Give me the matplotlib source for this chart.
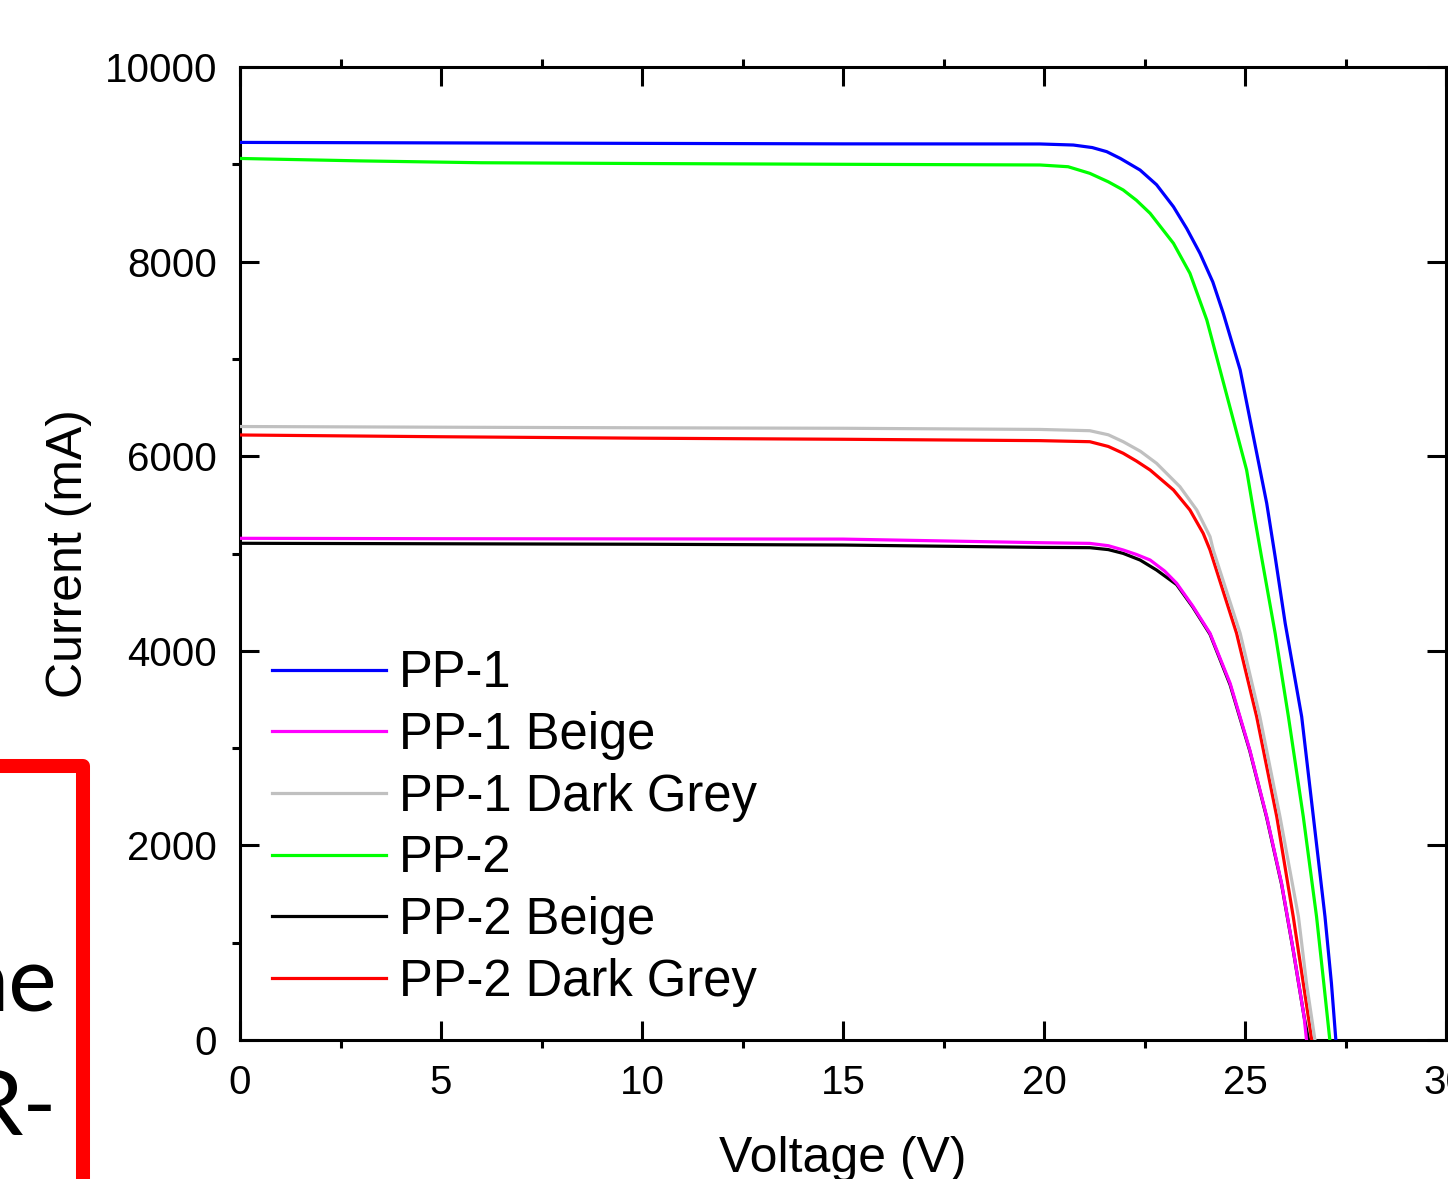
import matplotlib
matplotlib.use("Agg")
import matplotlib.pyplot as plt
from matplotlib.lines import Line2D

plt.rcParams['font.family'] = ['Liberation Sans', 'DejaVu Sans']

# ---------------- data ----------------
pp1_v = [0, 5, 10, 15, 19.9, 20.73, 21.2, 21.56, 21.9, 22.39, 22.8, 23.22, 23.55,
         23.88, 24.2, 24.46, 24.88, 25.21, 25.54, 25.75, 26.0, 26.41, 26.70, 26.99,
         27.15, 27.26]
pp1_i = [9225, 9220, 9215, 9210, 9209, 9198, 9172, 9130, 9060, 8941, 8790, 8564, 8340,
         8085, 7790, 7468, 6886, 6200, 5516, 4967, 4282, 3323, 2295, 1267,
         583, 0]

pp2_v = [0, 3, 6, 10, 15, 19.9, 20.6, 21.14, 21.6, 21.97, 22.3, 22.64, 23.22, 23.63,
         24.05, 24.38, 24.71, 25.04, 25.25, 25.41, 25.75, 26.08, 26.45, 26.78, 26.96,
         27.11]
pp2_i = [9060, 9035, 9016, 9008, 9000, 8993, 8975, 8907, 8820, 8736, 8630, 8496, 8188, 7880,
         7400, 6886, 6372, 5858, 5344, 4967, 4180, 3323, 2295, 1267, 583,
         0]

pp1_grey_v = [0, 5, 10, 15, 19.9, 21.14, 21.6, 21.97, 22.4, 22.8, 23.38, 23.80, 24.13,
              24.21, 24.88, 25.37, 25.87, 26.33, 26.53, 26.74]
pp1_grey_i = [6305, 6298, 6292, 6287, 6275, 6262, 6220, 6149, 6050, 5927, 5687, 5447, 5173,
              5036, 4180, 3323, 2295, 1267, 583, 0]

pp2_grey_v = [0, 5, 10, 15, 19.9, 21.14, 21.6, 21.97, 22.3, 22.64, 23.22, 23.63, 23.96,
              24.13, 24.79, 25.29, 25.79, 26.20, 26.45, 26.66]
pp2_grey_i = [6218, 6200, 6185, 6174, 6160, 6149, 6100, 6030, 5950, 5858, 5653, 5447, 5207,
              5036, 4180, 3323, 2295, 1267, 583, 0]

pp1_beige_v = [0, 5, 10, 15, 19.9, 21.14, 21.6, 21.97, 22.3, 22.64, 23.0, 23.3, 23.7,
               24.13, 24.63, 25.12, 25.54, 25.91, 26.20, 26.47, 26.53]
pp1_beige_i = [5156, 5152, 5150, 5148, 5111, 5104, 5080, 5036, 4990, 4933, 4820, 4694, 4460,
               4180, 3666, 2980, 2295, 1610, 925, 240, 0]

pp2_beige_v = [0, 5, 10, 15, 19.9, 21.14, 21.6, 21.97, 22.39, 22.8, 23.3, 23.7,
               24.13, 24.63, 25.12, 25.54, 25.91, 26.20, 26.47, 26.58]
pp2_beige_i = [5105, 5100, 5095, 5087, 5063, 5060, 5040, 5001, 4933, 4830, 4680, 4450,
               4170, 3650, 2970, 2285, 1600, 920, 240, 0]

labels = ["PP-1", "PP-1 Beige", "PP-1 Dark Grey", "PP-2", "PP-2 Beige", "PP-2 Dark Grey"]
colors = ["#0000FF", "#FF00FF", "#C0C0C0", "#00FF00", "#000000", "#FF0000"]

x_major = [0, 5, 10, 15, 20, 25, 30]
x_minor = [2.5, 7.5, 12.5, 17.5, 22.5, 27.5]
y_major = [0, 2000, 4000, 6000, 8000, 10000]
y_minor = [1000, 3000, 5000, 7000, 9000]

side_text = ["ne", "R-"]

# ---------------- figure ----------------
W, H = 1448, 1179
fig = plt.figure(figsize=(W / 100, H / 100), dpi=100)
ax = fig.add_axes([240 / W, 1 - 1040 / H, 1206 / W, 973 / H])

series = [
    (pp1_v, pp1_i), (pp1_beige_v, pp1_beige_i), (pp1_grey_v, pp1_grey_i),
    (pp2_v, pp2_i), (pp2_beige_v, pp2_beige_i), (pp2_grey_v, pp2_grey_i),
]
zorders = [6, 6, 6, 5, 4, 4]
handles = []
for (v, i), lab, col, z in zip(series, labels, colors, zorders):
    ln, = ax.plot(v, i, color=col, lw=2.3, label=lab, zorder=z,
                  solid_joinstyle='round')
    handles.append(ln)

ax.set_xlim(0, 30)
ax.set_ylim(0, 10000)
ax.set_xticks(x_major)
ax.set_xticks(x_minor, minor=True)
ax.set_yticks(y_major)
ax.set_yticks(y_minor, minor=True)

for s in ax.spines.values():
    s.set_linewidth(2.2)
ax.tick_params(which='major', direction='in', length=13.7, width=2.2,
               top=True, right=True, labelsize=29)
ax.tick_params(which='minor', direction='out', length=5.8, width=2.2,
               top=True, right=True)
ax.tick_params(axis='x', which='major', pad=17)
ax.tick_params(axis='y', which='major', pad=16.5)

ax.set_xlabel("Voltage (V)", fontsize=36)
ax.xaxis.label.set_va('baseline')
ax.xaxis.set_label_coords(0.5, (1040 - 1172) / 973)
ax.set_ylabel("Current (mA)", fontsize=36)
ax.yaxis.label.set_va('baseline')
ax.yaxis.set_label_coords((82 - 240) / 1206, 0.5)

ax.legend(handles=handles, loc='center left',
          bbox_to_anchor=((272 - 240) / 1206, (1040 - 828) / 973),
          frameon=False, fontsize=36.5, handlelength=2.25, handletextpad=0.26,
          labelspacing=0.25, borderpad=0, borderaxespad=0)

# red box fragment and clipped text on the left
fig.add_artist(Line2D([-20 / W, 83 / W, 83 / W],
                      [1 - 766 / H, 1 - 766 / H, -20 / H],
                      transform=fig.transFigure, color='#FF0000', lw=10.1,
                      solid_joinstyle='round', solid_capstyle='butt'))
fig.text(57 / W, 1 - 1012 / H, side_text[0], ha='right', va='baseline',
         fontsize=66, family='Lato')
fig.text(57 / W, 1 - 1135 / H, side_text[1], ha='right', va='baseline',
         fontsize=66, family='Lato')

fig.savefig("out.png", dpi=100)
